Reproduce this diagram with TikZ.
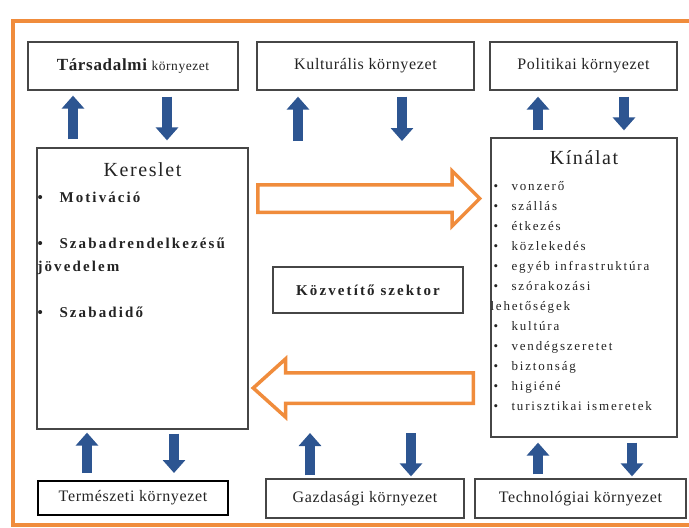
\documentclass[tikz,border=0pt]{standalone}
\usepackage{fontspec}
\setmainfont{Liberation Serif}
\newfontfamily\ritkafont{Liberation Serif}[LetterSpace=4]
\newfontfamily\cimfont{Liberation Serif}[LetterSpace=8]
\newfontfamily\listafont{Liberation Serif}[LetterSpace=14]
\usepackage{tikz}
\usetikzlibrary{arrows.meta,shapes.arrows,positioning}
\usepackage{xcolor}
\definecolor{dfnarancs}{RGB}{240,140,60}
\definecolor{dfkek}{RGB}{45,85,145}
\definecolor{dfszurke}{RGB}{70,70,70}
\definecolor{dfszoveg}{RGB}{35,35,35}
\tikzstyle{keret} = [draw=dfnarancs, line width=3.5pt]
\tikzstyle{kornyezet} = [rectangle, draw=dfszurke, line width=1.3pt, minimum height=48pt, text centered, text=dfszoveg, font=\ritkafont\fontsize{16}{19}\selectfont]
\tikzstyle{oldal} = [rectangle, draw=dfszurke, line width=1.3pt]
\tikzstyle{cim} = [text=dfszoveg, inner sep=0pt, font=\cimfont\fontsize{20}{24}\selectfont]
\tikzstyle{lista} = [text=dfszoveg, inner sep=0pt, align=left]
\tikzstyle{kek nyil} = [draw=dfkek, line width=10pt, -{Triangle[width=22pt,length=13pt]}]
\tikzstyle{ures nyil} = [single arrow, draw=dfnarancs, fill=white, line width=3.5pt, inner xsep=0pt, single arrow head extend=14pt]

\begin{document}
\begin{tikzpicture}[x=1pt, y=-1pt]
\useasboundingbox (0,0) rectangle (689,528);
\draw [keret] (689,21) -- (13,21) -- (13,525) -- (689,525);
\node (tarsadalmi) [kornyezet, minimum width=210pt] at (133,66) {{\bfseries\fontsize{17}{20}\selectfont Társadalmi} {\fontsize{13.5}{16}\selectfont környezet}};
\node (kulturalis) [kornyezet, minimum width=217pt] at (365.5,66) {Kulturális környezet};
\node (politikai) [kornyezet, minimum width=187pt] at (583.5,66) {Politikai környezet};
\node (kereslet) [oldal, minimum width=211pt, minimum height=281pt] at (142.5,288.5) {};
\node (kereslet cim) [cim, anchor=base] at ([yshift=-29.5pt]kereslet.north) {Kereslet};
\node (kereslet lista) [lista, anchor=base west, font=\listafont\bfseries\fontsize{15}{23}\selectfont] at ([xshift=1pt, yshift=-170pt]kereslet.north west) {\makebox[22pt][l]{\textbullet}Motiváció\\[23pt]\makebox[22pt][l]{\textbullet}Szabadrendelkezésű\\jövedelem\\[23pt]\makebox[22pt][l]{\textbullet}Szabadidő};
\node (kinalat) [oldal, minimum width=186pt, minimum height=299pt] at (584,287.5) {};
\node (kinalat cim) [cim, anchor=base] at ([yshift=-27pt]kinalat.north) {Kínálat};
\node (kinalat lista) [lista, anchor=base west, font=\listafont\fontsize{13}{20}\selectfont] at ([xshift=3pt, yshift=-273.5pt]kinalat.north west) {\makebox[18pt][l]{\textbullet}vonzerő\\\makebox[18pt][l]{\textbullet}szállás\\\makebox[18pt][l]{\textbullet}étkezés\\\makebox[18pt][l]{\textbullet}közlekedés\\\makebox[18pt][l]{\textbullet}egyéb infrastruktúra\\\makebox[18pt][l]{\textbullet}szórakozási\\\hspace*{-3pt}lehetőségek\\\makebox[18pt][l]{\textbullet}kultúra\\\makebox[18pt][l]{\textbullet}vendégszeretet\\\makebox[18pt][l]{\textbullet}biztonság\\\makebox[18pt][l]{\textbullet}higiéné\\\makebox[18pt][l]{\textbullet}turisztikai ismeretek};
\node (kozvetito) [kornyezet, minimum width=190pt, minimum height=46pt, font=\listafont\bfseries\fontsize{15}{18}\selectfont] at (368,290) {Közvetítő szektor};
\node (oda) [ures nyil, inner ysep=12pt, minimum height=222pt, anchor=tail] at (256,198.5) {};
\node (vissza) [ures nyil, inner ysep=13.5pt, minimum height=220pt, single arrow tip angle=84, shape border rotate=180, anchor=tail] at (475,388) {};
\node (termeszeti) [kornyezet, draw=black, line width=2pt, minimum width=190pt, minimum height=34pt] at (133,498) {Természeti környezet};
\node (gazdasagi) [kornyezet, minimum width=198pt, minimum height=39pt] at (365,498.5) {Gazdasági környezet};
\node (technologiai) [kornyezet, minimum width=211pt, minimum height=39pt] at (580.5,498.5) {Technológiai környezet};
\coordinate (kozepfent) at (365.5,141);
\coordinate (kozeplent) at (365,433);
\draw [kek nyil, shorten <=8pt, shorten >=5pt] ([xshift=-69.5pt]kereslet.north) -- ([xshift=-60pt]tarsadalmi.south);
\draw [kek nyil, shorten <=6pt, shorten >=7pt] ([xshift=34pt]tarsadalmi.south) -- ([xshift=24.5pt]kereslet.north);
\draw [kek nyil, shorten >=6pt] ([xshift=-67.5pt]kozepfent) -- ([xshift=-67.5pt]kulturalis.south);
\draw [kek nyil, shorten <=6pt] ([xshift=36.5pt]kulturalis.south) -- ([xshift=36.5pt]kozepfent);
\draw [kek nyil, shorten <=7pt, shorten >=6pt] ([xshift=-46pt]kinalat.north) -- ([xshift=-45.5pt]politikai.south);
\draw [kek nyil, shorten <=6pt, shorten >=7pt] ([xshift=40.5pt]politikai.south) -- ([xshift=40pt]kinalat.north);
\draw [kek nyil, shorten <=7pt, shorten >=3pt] ([xshift=-46pt]termeszeti.north) -- ([xshift=-55.5pt]kereslet.south);
\draw [kek nyil, shorten <=4pt, shorten >=7pt] ([xshift=31.5pt]kereslet.south) -- ([xshift=41pt]termeszeti.north);
\draw [kek nyil, shorten <=3pt] ([xshift=-55pt]gazdasagi.north) -- ([xshift=-55pt]kozeplent);
\draw [kek nyil, shorten >=2pt] ([xshift=46pt]kozeplent) -- ([xshift=46pt]gazdasagi.north);
\draw [kek nyil, shorten <=4pt, shorten >=5pt] ([xshift=-42.5pt]technologiai.north) -- ([xshift=-46pt]kinalat.south);
\draw [kek nyil, shorten <=5pt, shorten >=2pt] ([xshift=48pt]kinalat.south) -- ([xshift=51.5pt]technologiai.north);
\end{tikzpicture}
\end{document}
